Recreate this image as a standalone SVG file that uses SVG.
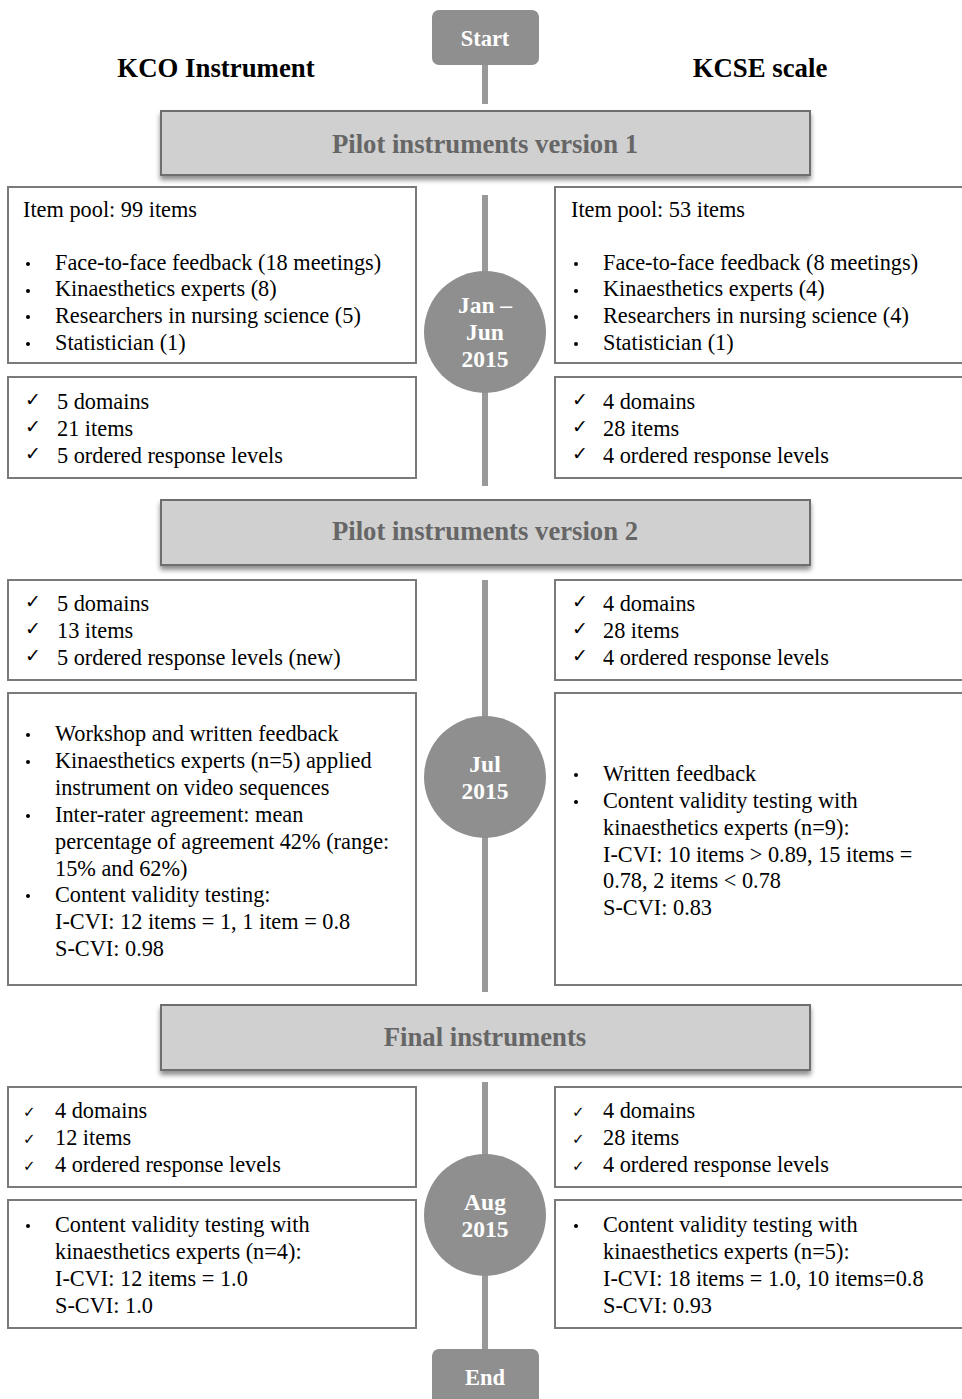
<svg xmlns="http://www.w3.org/2000/svg" width="962" height="1399" viewBox="0 0 962 1399">
  <defs>
    <filter id="shadow" x="-5%" y="-20%" width="110%" height="150%">
      <feGaussianBlur in="SourceAlpha" stdDeviation="2.5"/>
      <feOffset dx="0" dy="4" result="b"/>
      <feComponentTransfer><feFuncA type="linear" slope="0.45"/></feComponentTransfer>
      <feMerge><feMergeNode/><feMergeNode in="SourceGraphic"/></feMerge>
    </filter>
  </defs>
  <style>
    .bg { fill: #ffffff; }
    .term { fill: #8f8f8f; }
    .termtxt { font-family: "Liberation Serif", "Times New Roman", serif; font-weight: bold; font-size: 22.5px; fill: #ffffff; text-anchor: middle; }
    .col { font-family: "Liberation Serif", "Times New Roman", serif; font-weight: bold; font-size: 26.8px; fill: #000000; text-anchor: middle; }
    .phase { fill: #d0d0d0; stroke: #6e6e6e; stroke-width: 2; }
    .phasetxt { font-family: "Liberation Serif", "Times New Roman", serif; font-weight: bold; font-size: 26.7px; fill: #666666; text-anchor: middle; }
    .box { fill: #ffffff; stroke: #7a7a7a; stroke-width: 2; }
    .t { font-family: "Liberation Serif", "Times New Roman", serif; font-size: 22.3px; fill: #000000; }
    .ck { font-family: "DejaVu Sans", sans-serif; font-size: 19px; fill: #000000; }
    .cks { font-family: "DejaVu Sans", sans-serif; font-size: 15px; fill: #000000; }
    .dot { fill: #000000; }
    .timeline { stroke: #999999; stroke-width: 6; fill: none; }
    .date { fill: #8f8f8f; }
    .datetxt { font-family: "Liberation Serif", "Times New Roman", serif; font-weight: bold; font-size: 23.5px; fill: #ffffff; text-anchor: middle; }
  </style>

  <rect class="bg" x="0" y="0" width="962" height="1399"/>

  <!-- timeline connectors -->
  <g id="connectors">
    <line class="timeline" x1="485" y1="60" x2="485" y2="104"/>
    <line class="timeline" x1="485" y1="195" x2="485" y2="486"/>
    <line class="timeline" x1="485" y1="580" x2="485" y2="992"/>
    <line class="timeline" x1="485" y1="1082" x2="485" y2="1355"/>
  </g>

  <!-- column titles -->
  <text class="col" x="216" y="77">KCO Instrument</text>
  <text class="col" x="760" y="77">KCSE scale</text>

  <g id="start">
    <rect class="term" x="432" y="10" width="107" height="55" rx="7"/>
    <text class="termtxt" x="485" y="46">Start</text>
  </g>

  <!-- phase 1 -->
  <g id="phase1">
    <rect class="phase" x="161" y="111" width="649" height="64" filter="url(#shadow)"/>
    <text class="phasetxt" x="485" y="153">Pilot instruments version 1</text>
  </g>

  <g id="kco-pool">
    <rect class="box" x="8" y="187" width="408" height="176"/>
    <text class="t" x="23" y="217">Item pool: 99 items</text>
    <circle class="dot" cx="28" cy="264" r="2"/>
    <circle class="dot" cx="28" cy="291" r="2"/>
    <circle class="dot" cx="28" cy="317" r="2"/>
    <circle class="dot" cx="28" cy="344" r="2"/>
    <text class="t" x="55" y="270">Face-to-face feedback (18 meetings)</text>
    <text class="t" x="55" y="296">Kinaesthetics experts (8)</text>
    <text class="t" x="55" y="323">Researchers in nursing science (5)</text>
    <text class="t" x="55" y="350">Statistician (1)</text>
  </g>

  <g id="kcse-pool">
    <rect class="box" x="555" y="187" width="412" height="176"/>
    <text class="t" x="571" y="217">Item pool: 53 items</text>
    <circle class="dot" cx="576" cy="264" r="2"/>
    <circle class="dot" cx="576" cy="291" r="2"/>
    <circle class="dot" cx="576" cy="317" r="2"/>
    <circle class="dot" cx="576" cy="344" r="2"/>
    <text class="t" x="603" y="270">Face-to-face feedback (8 meetings)</text>
    <text class="t" x="603" y="296">Kinaesthetics experts (4)</text>
    <text class="t" x="603" y="323">Researchers in nursing science (4)</text>
    <text class="t" x="603" y="350">Statistician (1)</text>
  </g>

  <g id="kco-v1">
    <rect class="box" x="8" y="377" width="408" height="101"/>
    <text class="ck" x="25" y="406">✓</text>
    <text class="ck" x="25" y="433">✓</text>
    <text class="ck" x="25" y="460">✓</text>
    <text class="t" x="57" y="409">5 domains</text>
    <text class="t" x="57" y="436">21 items</text>
    <text class="t" x="57" y="463">5 ordered response levels</text>
  </g>

  <g id="kcse-v1">
    <rect class="box" x="555" y="377" width="412" height="101"/>
    <text class="ck" x="572" y="406">✓</text>
    <text class="ck" x="572" y="433">✓</text>
    <text class="ck" x="572" y="460">✓</text>
    <text class="t" x="603" y="409">4 domains</text>
    <text class="t" x="603" y="436">28 items</text>
    <text class="t" x="603" y="463">4 ordered response levels</text>
  </g>

  <g id="date1">
    <circle class="date" cx="485" cy="332" r="61"/>
    <text class="datetxt" x="485" y="313">Jan –</text>
    <text class="datetxt" x="485" y="340">Jun</text>
    <text class="datetxt" x="485" y="367">2015</text>
  </g>

  <!-- phase 2 -->
  <g id="phase2">
    <rect class="phase" x="161" y="500" width="649" height="65" filter="url(#shadow)"/>
    <text class="phasetxt" x="485" y="540">Pilot instruments version 2</text>
  </g>

  <g id="kco-v2">
    <rect class="box" x="8" y="580" width="408" height="100"/>
    <text class="ck" x="25" y="608">✓</text>
    <text class="ck" x="25" y="635">✓</text>
    <text class="ck" x="25" y="662">✓</text>
    <text class="t" x="57" y="611">5 domains</text>
    <text class="t" x="57" y="638">13 items</text>
    <text class="t" x="57" y="665">5 ordered response levels (new)</text>
  </g>

  <g id="kcse-v2">
    <rect class="box" x="555" y="580" width="412" height="100"/>
    <text class="ck" x="572" y="608">✓</text>
    <text class="ck" x="572" y="635">✓</text>
    <text class="ck" x="572" y="662">✓</text>
    <text class="t" x="603" y="611">4 domains</text>
    <text class="t" x="603" y="638">28 items</text>
    <text class="t" x="603" y="665">4 ordered response levels</text>
  </g>

  <g id="kco-review">
    <rect class="box" x="8" y="693" width="408" height="292"/>
    <circle class="dot" cx="28" cy="735" r="2"/>
    <circle class="dot" cx="28" cy="762" r="2"/>
    <circle class="dot" cx="28" cy="816" r="2"/>
    <circle class="dot" cx="28" cy="896" r="2"/>
    <text class="t" x="55" y="741">Workshop and written feedback</text>
    <text class="t" x="55" y="768">Kinaesthetics experts (n=5) applied</text>
    <text class="t" x="55" y="795">instrument on video sequences</text>
    <text class="t" x="55" y="822">Inter-rater agreement: mean</text>
    <text class="t" x="55" y="849">percentage of agreement 42% (range:</text>
    <text class="t" x="55" y="876">15% and 62%)</text>
    <text class="t" x="55" y="902">Content validity testing:</text>
    <text class="t" x="55" y="929">I-CVI:  12 items = 1, 1 item = 0.8</text>
    <text class="t" x="55" y="956">S-CVI: 0.98</text>
  </g>

  <g id="kcse-review">
    <rect class="box" x="555" y="693" width="412" height="292"/>
    <circle class="dot" cx="576" cy="775" r="2"/>
    <circle class="dot" cx="576" cy="802" r="2"/>
    <text class="t" x="603" y="781">Written feedback</text>
    <text class="t" x="603" y="808">Content validity testing with</text>
    <text class="t" x="603" y="835">kinaesthetics experts (n=9):</text>
    <text class="t" x="603" y="862">I-CVI:  10 items &gt; 0.89, 15 items =</text>
    <text class="t" x="603" y="888">0.78, 2 items &lt; 0.78</text>
    <text class="t" x="603" y="915">S-CVI: 0.83</text>
  </g>

  <g id="date2">
    <circle class="date" cx="485" cy="777" r="61"/>
    <text class="datetxt" x="485" y="772">Jul</text>
    <text class="datetxt" x="485" y="799">2015</text>
  </g>

  <!-- final -->
  <g id="phase3">
    <rect class="phase" x="161" y="1005" width="649" height="65" filter="url(#shadow)"/>
    <text class="phasetxt" x="485" y="1046">Final instruments</text>
  </g>

  <g id="kco-final">
    <rect class="box" x="8" y="1087" width="408" height="100"/>
    <text class="cks" x="23" y="1117">✓</text>
    <text class="cks" x="23" y="1144">✓</text>
    <text class="cks" x="23" y="1171">✓</text>
    <text class="t" x="55" y="1118">4 domains</text>
    <text class="t" x="55" y="1145">12 items</text>
    <text class="t" x="55" y="1172">4 ordered response levels</text>
  </g>

  <g id="kcse-final">
    <rect class="box" x="555" y="1087" width="412" height="100"/>
    <text class="cks" x="572" y="1117">✓</text>
    <text class="cks" x="572" y="1144">✓</text>
    <text class="cks" x="572" y="1171">✓</text>
    <text class="t" x="603" y="1118">4 domains</text>
    <text class="t" x="603" y="1145">28 items</text>
    <text class="t" x="603" y="1172">4 ordered response levels</text>
  </g>

  <g id="kco-validity">
    <rect class="box" x="8" y="1200" width="408" height="128"/>
    <circle class="dot" cx="28" cy="1226" r="2"/>
    <text class="t" x="55" y="1232">Content validity testing with</text>
    <text class="t" x="55" y="1259">kinaesthetics experts (n=4):</text>
    <text class="t" x="55" y="1286">I-CVI:  12 items = 1.0</text>
    <text class="t" x="55" y="1313">S-CVI: 1.0</text>
  </g>

  <g id="kcse-validity">
    <rect class="box" x="555" y="1200" width="412" height="128"/>
    <circle class="dot" cx="576" cy="1226" r="2"/>
    <text class="t" x="603" y="1232">Content validity testing with</text>
    <text class="t" x="603" y="1259">kinaesthetics experts (n=5):</text>
    <text class="t" x="603" y="1286">I-CVI:  18 items = 1.0, 10 items=0.8</text>
    <text class="t" x="603" y="1313">S-CVI: 0.93</text>
  </g>

  <g id="date3">
    <circle class="date" cx="485" cy="1215" r="61"/>
    <text class="datetxt" x="485" y="1210">Aug</text>
    <text class="datetxt" x="485" y="1237">2015</text>
  </g>

  <g id="end">
    <rect class="term" x="432" y="1349" width="107" height="60" rx="7"/>
    <text class="termtxt" x="485" y="1385">End</text>
  </g>
</svg>
